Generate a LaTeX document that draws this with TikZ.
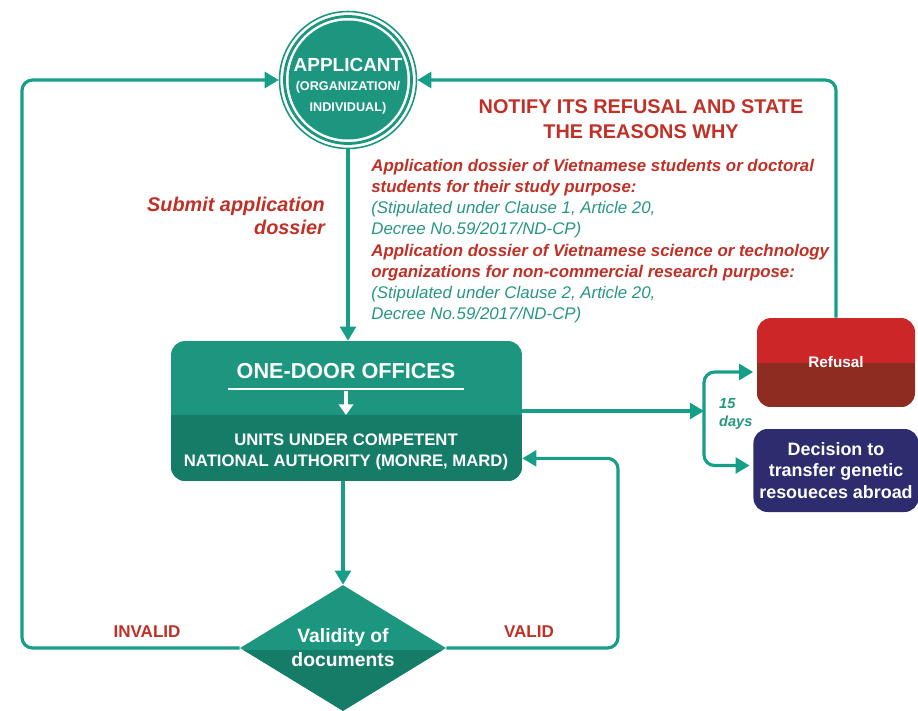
\documentclass[tikz,border=0pt]{standalone}
\usepackage{fontspec}
\setmainfont{Liberation Sans}
\usepackage{xcolor}
\usepackage{tikz}
\usetikzlibrary{arrows.meta,positioning,shapes.geometric,calc}
\definecolor{tealmain}{RGB}{28,150,126}
\definecolor{tealdark}{RGB}{20,124,103}
\definecolor{tealline}{RGB}{22,158,136}
\definecolor{tealtext}{RGB}{38,150,130}
\definecolor{notered}{RGB}{192,48,38}
\definecolor{refusetop}{RGB}{204,38,40}
\definecolor{refusebot}{RGB}{142,44,33}
\definecolor{decnavy}{RGB}{44,44,110}

\begin{document}
\begin{tikzpicture}[x=0.02cm, y=-0.02cm, font=\bfseries,
  flow/.style={draw=tealline, line width=1.8pt, -{Triangle[length=8pt,width=9pt]}},
  appnode/.style={circle, draw=tealmain, line width=0.9pt, minimum size=2.74cm, inner sep=0pt,
    path picture={\draw[tealmain, line width=1.6pt] (path picture bounding box.center) circle (1.27cm);
      \fill[tealmain] (path picture bounding box.center) circle (1.19cm);}},
  doorbox/.style={rectangle, rounded corners=8pt, fill=tealmain, minimum width=7.02cm, minimum height=2.8cm,
    path picture={\fill[tealdark, sharp corners] (path picture bounding box.south west) rectangle ([yshift=-0.08cm]path picture bounding box.east);}},
  refusebox/.style={rectangle, rounded corners=8pt, fill=refusetop, minimum width=3.16cm, minimum height=1.78cm,
    text=white, font=\fontsize{8.7}{11}\bfseries,
    path picture={\fill[refusebot, sharp corners] (path picture bounding box.south west) rectangle (path picture bounding box.east);}},
  decbox/.style={rectangle, rounded corners=8pt, fill=decnavy, minimum width=3.16cm, minimum height=1.66cm,
    text=white, align=center, font=\fontsize{10.2}{12.3}\bfseries},
  checkdiam/.style={diamond, aspect=1.6, inner sep=0pt, fill=tealmain, minimum width=4.12cm, minimum height=2.52cm,
    text=white, align=center, font=\fontsize{11}{13.7}\bfseries,
    path picture={\fill[tealdark, sharp corners] (path picture bounding box.south west) rectangle ([yshift=-0.04cm]path picture bounding box.east);}},
  redlbl/.style={text=notered, font=\fontsize{9.7}{11}\bfseries},
]
  \useasboundingbox (0,0) rectangle (918,710);

  % Applicant
  \node[appnode] (app) at (348,80) {};
  \node[text=white, align=center, inner sep=0pt] (apptext) at (348,86)
    {{\fontsize{10.8}{10}\selectfont APPLICANT}\\[-1pt]
     {\fontsize{7.2}{10}\selectfont (ORGANIZATION/}\\
     {\fontsize{7.2}{10}\selectfont INDIVIDUAL)}};

  % One-door offices and units
  \node[doorbox] (door) at (346.5,411) {};
  \node[text=white, font=\fontsize{12.3}{14}\bfseries] (doortitle) at (346,371) {ONE-DOOR OFFICES};
  \draw[white, line width=1pt] (228,389) -- (464,389);
  \draw[white, line width=2pt, -{Triangle[length=6pt,width=8pt]}] (346,391) -- (346,415);
  \node[text=white, align=center, font=\fontsize{9.5}{12}\bfseries] (units) at (346,452)
    {UNITS UNDER COMPETENT\\NATIONAL AUTHORITY (MONRE, MARD)};

  % Results after 15 days
  \node[refusebox] (refuse) at (836,362.5) {Refusal};
  \node[decbox] (dec) at (836,470.5) {Decision to\\transfer genetic\\resoueces abroad};

  % Validity check
  \node[checkdiam] (diam) at (343,648) {Validity of\\documents};

  % Texts
  \node[text=notered, align=right, anchor=east, font=\fontsize{11.3}{13}\bfseries\itshape] (submit) at (331,216)
    {Submit application\\dossier};
  \node[text=notered, align=center, font=\fontsize{11.3}{14}\bfseries] (notify) at (641,119)
    {NOTIFY ITS REFUSAL AND STATE\\THE REASONS WHY};
  \node[anchor=north west, align=left, inner sep=0pt, font=\fontsize{9.6}{11.9}\selectfont] (dossier) at (371,159)
    {{\bfseries\itshape\color{notered}Application dossier of Vietnamese students or doctoral}\\
     {\bfseries\itshape\color{notered}students for their study purpose:}\\
     {\mdseries\itshape\color{tealtext}(Stipulated under Clause 1, Article 20,}\\
     {\mdseries\itshape\color{tealtext}Decree No.59/2017/ND-CP)}\\[1pt]
     {\bfseries\itshape\color{notered}Application dossier of Vietnamese science or technology}\\
     {\bfseries\itshape\color{notered}organizations for non-commercial research purpose:}\\
     {\mdseries\itshape\color{tealtext}(Stipulated under Clause 2, Article 20,}\\
     {\mdseries\itshape\color{tealtext}Decree No.59/2017/ND-CP)}};
  \node[text=tealtext, align=left, anchor=west, font=\fontsize{8.3}{10.5}\bfseries\itshape] (days) at (713,414)
    {15\\days};
  \node[redlbl] (invalid) at (147,632) {INVALID};
  \node[redlbl] (valid) at (529,632) {VALID};

  % Connectors
  \coordinate (split) at (704,411);
  \draw[flow] (app.south) -- (app.south |- door.north);
  \draw[flow] (door.south -| diam.north) -- (diam.north);
  \draw[flow] (door.east) -- (split);
  \draw[flow, rounded corners=6pt, shorten >=2pt] (split) |- ([yshift=-0.19cm]refuse.west);
  \draw[flow, rounded corners=6pt, shorten >=2pt] (split) |- ([yshift=0.1cm]dec.west);
  \draw[flow, rounded corners=6pt] (refuse.north) |- (app.east);
  \draw[flow, rounded corners=6pt] (diam.west) -- (22,648) |- (app.west);
  \draw[flow, rounded corners=6pt] (diam.east) -- (618,648) |- ([yshift=0.46cm]door.south east);

\end{tikzpicture}
\end{document}
